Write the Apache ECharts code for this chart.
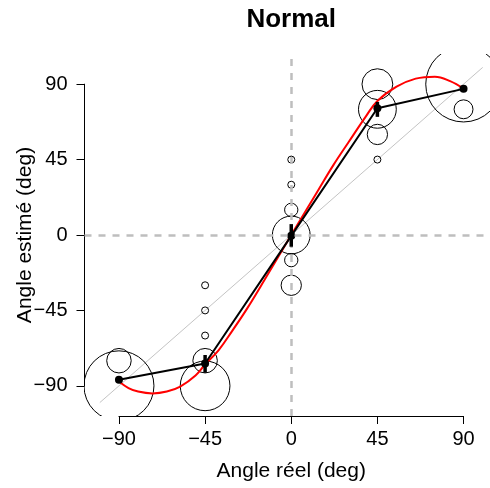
<!DOCTYPE html>
<html>
<head>
<meta charset="utf-8">
<script src="https://cdn.jsdelivr.net/npm/echarts@6/dist/echarts.min.js"></script>
<style>html,body{margin:0;padding:0;background:#fff}#c{width:490px;height:488px}</style>
</head>
<body>
<div id="c"></div>
<script>
// ---- data ----
const tickValues = [-90, -45, 0, 45, 90];
// response bubbles: [true angle, estimated angle, relative count]
const bubbles = [
  [-90, -90, 10.0], [-90, -75, 3.5],
  [-45, -90, 7.1], [-45, -75, 3.5], [-45, -60, 1], [-45, -45, 1], [-45, -30, 1],
  [0, -30, 2.9], [0, -15, 1.9], [0, 0, 5.4], [0, 15, 1.9], [0, 30, 1], [0, 45, 1],
  [45, 45, 1], [45, 60, 2.9], [45, 75, 5.4], [45, 90, 4.4],
  [90, 75, 2.7], [90, 90, 10.8]
];
const trueAngles = [-90, -45, 0, 45, 90];
const meanEstimates = [-86.4, -76.7, -0.5, 75.6, 87.2];
const errLow = [-87.4, -82.2, -7.0, 70.5, 86.4];
const errHigh = [-85.4, -71.6, 6.5, 79.4, 88.0];
const fitX = [-90, -85, -80, -72.5, -65, -58, -50, -45, -38, -31, -23, -14, 0, 14, 22, 30, 39, 45, 55, 65, 75, 83, 90];
const fitY = [-87.4, -91.3, -93.4, -94.5, -93.4, -90.4, -83.8, -77.2, -68.8, -57.5, -43.8, -26.9, 0, 26.6, 41.7, 55.5, 70.8, 80.0, 88.5, 93.3, 94.5, 91.8, 87.3];
const identityRange = [-100, 100];
const refZero = 0;
const axisRange = [-108, 108];

// ---- chart ----
const chart = echarts.init(document.getElementById('c'), null, {renderer: 'canvas'});
const FONT = 'Liberation Sans, Arial, Helvetica, sans-serif';
const UNIT = 3.5; // px radius per count unit
const fmt = v => String(v).replace('-', '\u2212');

const plotLeft = 84.5, plotTop = 54, plotH = 362, fullW = 413.5;
const pxX = fullW / (axisRange[1] - axisRange[0]);
const pxY = plotH / (axisRange[1] - axisRange[0]);
const zeroX = plotLeft + fullW / 2;
const zeroY = plotTop + plotH / 2;
// visible part of the plot region (it runs past the right edge of the canvas)
const plotW = 490 - plotLeft;
const xMaxVisible = axisRange[0] + plotW / pxX;

const option = {
  animation: false,
  backgroundColor: '#ffffff',
  graphic: [{
    type: 'text', x: zeroX, y: 20,
    style: {text: 'Normal', fontFamily: FONT, fontWeight: 'bold', fontSize: 26, fill: '#000',
            align: 'center', verticalAlign: 'middle'}
  }],
  grid: [
    {left: plotLeft, top: plotTop, width: plotW, height: plotH},
    {left: zeroX + tickValues[0] * pxX, top: plotTop, width: (tickValues[4] - tickValues[0]) * pxX, height: plotH},
    {left: plotLeft, top: zeroY - tickValues[4] * pxY, width: 100, height: (tickValues[4] - tickValues[0]) * pxY}
  ],
  xAxis: [
    {gridIndex: 0, type: 'value', min: axisRange[0], max: xMaxVisible, show: false},
    {gridIndex: 1, type: 'value', min: tickValues[0], max: tickValues[4], interval: 45,
     name: 'Angle réel (deg)', nameLocation: 'middle', nameGap: 45, nameMoveOverlap: false,
     nameTextStyle: {fontFamily: FONT, fontSize: 21, color: '#000'},
     axisLine: {show: true, onZero: false, lineStyle: {color: '#000', width: 1}},
     axisTick: {show: true, inside: false, length: 8, lineStyle: {color: '#000', width: 1}},
     axisLabel: {show: true, margin: 13, fontFamily: FONT, fontSize: 20, color: '#000', formatter: fmt},
     splitLine: {show: false}},
    {gridIndex: 2, type: 'value', min: 0, max: 1, show: false}
  ],
  yAxis: [
    {gridIndex: 0, type: 'value', min: axisRange[0], max: axisRange[1], show: false},
    {gridIndex: 1, type: 'value', min: 0, max: 1, show: false},
    {gridIndex: 2, type: 'value', min: tickValues[0], max: tickValues[4], interval: 45,
     name: 'Angle estimé (deg)', nameLocation: 'middle', nameGap: 49, nameRotate: 90, nameMoveOverlap: false,
     nameTextStyle: {fontFamily: FONT, fontSize: 21, color: '#000'},
     axisLine: {show: true, onZero: false, lineStyle: {color: '#000', width: 1}},
     axisTick: {show: true, inside: false, length: 8, lineStyle: {color: '#000', width: 1}},
     axisLabel: {show: true, margin: 17, fontFamily: FONT, fontSize: 20, color: '#000', formatter: fmt},
     splitLine: {show: false}}
  ],
  series: [
    {
      type: 'line', xAxisIndex: 0, yAxisIndex: 0, z: 1,
      data: identityRange.map(v => [v, v]),
      symbol: 'none', lineStyle: {color: '#c4c4c4', width: 1}, silent: true,
      markLine: {
        silent: true, symbol: 'none', label: {show: false},
        lineStyle: {color: '#bebebe', width: 2.5, type: [7, 7]},
        data: [{xAxis: refZero}, {yAxis: refZero}]
      }
    },
    {
      type: 'custom', xAxisIndex: 0, yAxisIndex: 0, z: 2, clip: true,
      data: bubbles,
      renderItem: function (params, api) {
        const c = api.coord([api.value(0), api.value(1)]);
        return {type: 'circle', shape: {cx: c[0], cy: c[1], r: api.value(2) * UNIT},
                style: {fill: 'none', stroke: '#000', lineWidth: 1}};
      }
    },
    {
      type: 'line', xAxisIndex: 0, yAxisIndex: 0, z: 3,
      data: fitX.map((x, i) => [x, fitY[i]]),
      smooth: 0.4, symbol: 'none', lineStyle: {color: '#ff0000', width: 2}
    },
    {
      type: 'line', xAxisIndex: 0, yAxisIndex: 0, z: 4,
      data: trueAngles.map((x, i) => [x, meanEstimates[i]]),
      symbol: 'circle', symbolSize: 8, itemStyle: {color: '#000'},
      lineStyle: {color: '#000', width: 2}
    },
    {
      type: 'custom', xAxisIndex: 0, yAxisIndex: 0, z: 5,
      data: trueAngles.map((x, i) => [x, errLow[i], errHigh[i]]),
      renderItem: function (params, api) {
        const a = api.coord([api.value(0), api.value(1)]);
        const b = api.coord([api.value(0), api.value(2)]);
        return {type: 'line', shape: {x1: a[0], y1: a[1], x2: b[0], y2: b[1]},
                style: {stroke: '#000', lineWidth: 3.5}};
      }
    }
  ]
};
chart.setOption(option);
</script>
</body>
</html>
